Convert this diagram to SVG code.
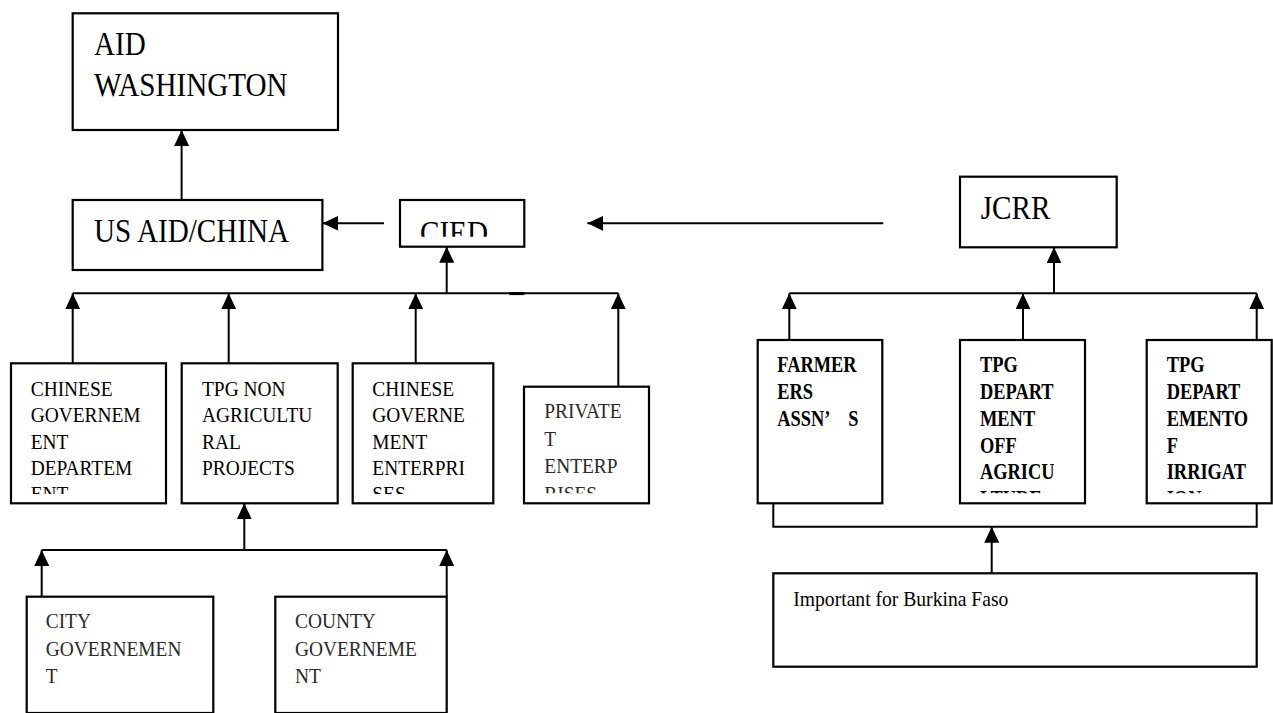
<svg xmlns="http://www.w3.org/2000/svg" width="1273" height="713" viewBox="0 0 1273 713">
<style>
.box{fill:#fff;stroke:#000;stroke-width:2.2}
.t{font-family:"Liberation Serif","Times New Roman",serif;font-size:21.8px;fill:#000}
.big{font-size:33.5px}
.bold{font-size:23px;font-weight:bold}
.grey{fill:#2a2a2a}
.conn line,.conn polyline{stroke:#000;stroke-width:2;fill:none}
.arr{marker-end:url(#ah)}
</style>
<defs>
<marker id="ah" markerUnits="userSpaceOnUse" markerWidth="16" markerHeight="15" refX="16" refY="7.5" orient="auto" viewBox="0 0 16 15"><path d="M0,0 L16,7.5 L0,15 z" fill="#000"/></marker>
<clipPath id="cCied"><rect x="400" y="200" width="124" height="36.7"/></clipPath>
<clipPath id="cL1"><rect x="11" y="363" width="155" height="131"/></clipPath>
<clipPath id="cL3"><rect x="352" y="363" width="141" height="131"/></clipPath>
<clipPath id="cPriv"><rect x="524" y="386" width="125" height="107.3"/></clipPath>
<clipPath id="cR2"><rect x="960" y="340" width="125" height="153.3"/></clipPath>
<clipPath id="cR3"><rect x="1146" y="340" width="125" height="153.3"/></clipPath>
</defs>
<rect width="1273" height="713" fill="#fff"/>

<g id="aid-washington">
<rect class="box" x="72.7" y="13.3" width="265.3" height="116.7"/>
<text class="t big" transform="translate(94,0) scale(0.87,1)"><tspan x="0" y="55">AID</tspan><tspan x="0" y="96">WASHINGTON</tspan></text>
</g>
<g id="us-aid-china">
<rect class="box" x="72.7" y="200" width="249.7" height="70"/>
<text class="t big" transform="translate(94,0) scale(0.87,1)" x="0" y="241.7">US AID/CHINA</text>
</g>
<g id="cied">
<rect class="box" x="400" y="200" width="124.3" height="46.7"/>
<g clip-path="url(#cCied)"><text class="t big" transform="translate(420,0) scale(0.87,1)" x="0" y="243.7">CIED</text></g>
</g>
<g id="jcrr">
<rect class="box" x="960" y="176.7" width="156.7" height="70.6"/>
<text class="t big" transform="translate(980.7,0) scale(0.87,1)" x="0" y="219.3">JCRR</text>
</g>

<g id="chinese-gov-dept">
<rect class="box" x="11" y="363.3" width="155" height="140"/>
<g clip-path="url(#cL1)"><text class="t" transform="translate(30.7,0) scale(0.89,1)"><tspan x="0" y="396">CHINESE</tspan><tspan x="0" y="422.3">GOVERNEM</tspan><tspan x="0" y="448.7">ENT</tspan><tspan x="0" y="475">DEPARTEM</tspan><tspan x="0" y="501.3">ENT</tspan></text></g>
</g>
<g id="tpg-non-agri">
<rect class="box" x="181.7" y="363.3" width="156" height="140"/>
<text class="t" transform="translate(202,0) scale(0.89,1)"><tspan x="0" y="396">TPG NON</tspan><tspan x="0" y="422.3">AGRICULTU</tspan><tspan x="0" y="448.7">RAL</tspan><tspan x="0" y="475">PROJECTS</tspan></text>
</g>
<g id="chinese-gov-enterprises">
<rect class="box" x="352.7" y="363.3" width="140.6" height="140"/>
<g clip-path="url(#cL3)"><text class="t" transform="translate(372.3,0) scale(0.89,1)"><tspan x="0" y="396">CHINESE</tspan><tspan x="0" y="422.3">GOVERNE</tspan><tspan x="0" y="448.7">MENT</tspan><tspan x="0" y="475">ENTERPRI</tspan><tspan x="0" y="501.3">SES</tspan></text></g>
</g>
<g id="private-enterprises">
<rect class="box" x="524" y="386.7" width="125" height="116.6"/>
<g clip-path="url(#cPriv)"><text class="t grey" transform="translate(544.3,0) scale(0.89,1)"><tspan x="0" y="418.3">PRIVATE</tspan><tspan x="0" y="445.7">T</tspan><tspan x="0" y="473.3">ENTERP</tspan><tspan x="0" y="500.7">RISES</tspan></text></g>
</g>

<g id="city-gov">
<rect class="box" x="26.7" y="596.7" width="186.6" height="116.3"/>
<text class="t grey" transform="translate(45.7,0) scale(0.89,1)"><tspan x="0" y="628.3">CITY</tspan><tspan x="0" y="655.7">GOVERNEMEN</tspan><tspan x="0" y="682.7">T</tspan></text>
</g>
<g id="county-gov">
<rect class="box" x="275.3" y="596.7" width="171.4" height="116.3"/>
<text class="t grey" transform="translate(295,0) scale(0.89,1)"><tspan x="0" y="628.3">COUNTY</tspan><tspan x="0" y="655.7">GOVERNEME</tspan><tspan x="0" y="682.7">NT</tspan></text>
</g>

<g id="farmers-assns">
<rect class="box" x="757.7" y="340" width="124.6" height="163.3"/>
<text class="t bold" transform="translate(777.3,0) scale(0.8,1)"><tspan x="0" y="372">FARMER</tspan><tspan x="0" y="399.3">ERS</tspan><tspan x="0" y="426">ASSN’ </tspan><tspan x="88.7" y="426">S</tspan></text>
</g>
<g id="tpg-dept-agriculture">
<rect class="box" x="960" y="340" width="125" height="163.3"/>
<g clip-path="url(#cR2)"><text class="t bold" transform="translate(980,0) scale(0.8,1)"><tspan x="0" y="372">TPG</tspan><tspan x="0" y="399.3">DEPART</tspan><tspan x="0" y="426">MENT</tspan><tspan x="0" y="452.7">OFF</tspan><tspan x="0" y="479.3">AGRICU</tspan><tspan x="0" y="506">LTURE</tspan></text></g>
</g>
<g id="tpg-dept-irrigation">
<rect class="box" x="1146.7" y="340" width="125" height="163.3"/>
<g clip-path="url(#cR3)"><text class="t bold" transform="translate(1166.7,0) scale(0.8,1)"><tspan x="0" y="372">TPG</tspan><tspan x="0" y="399.3">DEPART</tspan><tspan x="0" y="426">EMENTO</tspan><tspan x="0" y="452.7">F</tspan><tspan x="0" y="479.3">IRRIGAT</tspan><tspan x="0" y="506">ION</tspan></text></g>
</g>
<g id="burkina-faso">
<rect class="box" x="773.3" y="573.3" width="483.4" height="93.4"/>
<text class="t" transform="translate(793.3,0) scale(0.9,1)" x="0" y="606">Important for Burkina Faso</text>
</g>

<g id="connectors" class="conn">
<line class="arr" x1="181.6" y1="200" x2="181.6" y2="130"/>
<line class="arr" x1="384" y1="223.3" x2="322.4" y2="223.3"/>
<line class="arr" x1="883.3" y1="223.3" x2="587.3" y2="223.3"/>
<line class="arr" x1="446.7" y1="293.3" x2="446.7" y2="246.7"/>
<line x1="72.7" y1="293.3" x2="618.3" y2="293.3"/>
<line x1="509.3" y1="293.6" x2="524.3" y2="293.6" style="stroke-width:3"/>
<line class="arr" x1="72.7" y1="363.3" x2="72.7" y2="293.3"/>
<line class="arr" x1="228.7" y1="363.3" x2="228.7" y2="293.3"/>
<line class="arr" x1="415.7" y1="363.3" x2="415.7" y2="293.3"/>
<line class="arr" x1="618.3" y1="386.7" x2="618.3" y2="293.3"/>
<line class="arr" x1="244.3" y1="550" x2="244.3" y2="503.3"/>
<line x1="41.7" y1="550" x2="446.7" y2="550"/>
<line class="arr" x1="41.7" y1="596.7" x2="41.7" y2="550"/>
<line class="arr" x1="446.7" y1="596.7" x2="446.7" y2="550"/>
<line class="arr" x1="1054" y1="293.3" x2="1054" y2="247.3"/>
<line x1="789.3" y1="293.3" x2="1256.7" y2="293.3"/>
<line class="arr" x1="789.3" y1="340" x2="789.3" y2="293.3"/>
<line class="arr" x1="1023" y1="340" x2="1023" y2="293.3"/>
<line class="arr" x1="1256.7" y1="340" x2="1256.7" y2="293.3"/>
<polyline points="773.3,503.3 773.3,526.7 1256.7,526.7 1256.7,503.3"/>
<line class="arr" x1="991.7" y1="573.3" x2="991.7" y2="526.7"/>
</g>
</svg>
